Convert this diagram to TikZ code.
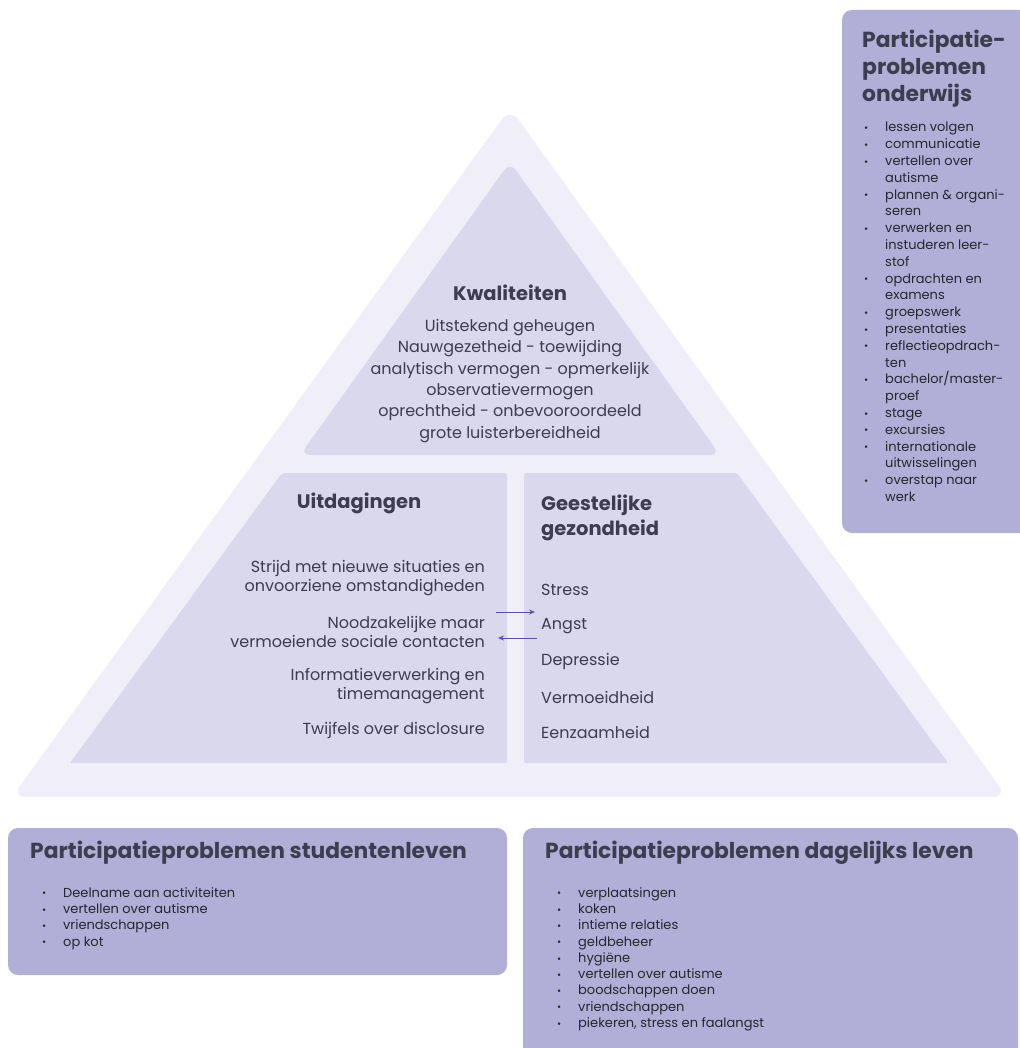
\documentclass[tikz,border=0pt]{standalone}
\usepackage{fontspec}
\setmainfont{Poppins}
\usetikzlibrary{arrows.meta}
\definecolor{outerc}{HTML}{F0EFF9}
\definecolor{innerc}{HTML}{DAD8EC}
\definecolor{boxc}{HTML}{B1AFD7}
\definecolor{txt}{HTML}{3D3D4F}
\definecolor{listc}{HTML}{26262F}
\definecolor{arrc}{HTML}{5A4FA0}
\newcommand\bul{\makebox[21pt][l]{\raisebox{0.3pt}{\fontsize{10}{10}\selectfont\textbullet}}}
\newcommand\cont{\hspace*{21pt}}
\begin{document}
\begin{tikzpicture}[x=1pt,y=-1pt,
  head/.style={font=\fontsize{19.5}{25}\selectfont\bfseries, text=txt, inner sep=0pt},
  body/.style={font=\fontsize{16}{21.3}\selectfont, text=txt, inner sep=0pt},
  bodyt/.style={font=\fontsize{16}{18.5}\selectfont, text=txt, inner sep=0pt},
  bigtitle/.style={font=\fontsize{21.8}{27}\selectfont\bfseries, text=txt, inner sep=0pt},
  listt/.style={font=\fontsize{13}{16.3}\selectfont, text=listc, inner sep=0pt, align=left},
  panel/.style={fill=boxc, rounded corners=10pt},
  arrowc/.style={draw=arrc, line width=1pt, -{Stealth[length=6pt,width=5pt]}}
]
\useasboundingbox (0,0) rectangle (1019,1048);
\fill[white] (0,0) rectangle (1019,1048);

% pyramid
\fill[outerc, rounded corners=14pt] (510,797) -- (1007,797) -- (510,108) -- (12,797) -- cycle;
\fill[innerc, rounded corners=10pt] (510,455) -- (720,455) -- (510,162) -- (300,455) -- cycle;
\fill[innerc, rounded corners=2pt] (282,473) -- (507,473) -- (507,763) -- (70,763) -- cycle;
\fill[innerc, rounded corners=2pt] (524,473) -- (737,473) -- (948,763) -- (524,763) -- cycle;

% Kwaliteiten
\node[head] (kwt) at (510,293) {Kwaliteiten};
\node[body, align=center] (kwb) at (510,381) {Uitstekend geheugen\\Nauwgezetheid - toewijding\\analytisch vermogen - opmerkelijk\\observatievermogen\\oprechtheid - onbevooroordeeld\\grote luisterbereidheid};

% Uitdagingen
\node[head] (uit) at (359,503) {Uitdagingen};
\node[bodyt, align=right, anchor=east] (u1) at (485,578) {Strijd met nieuwe situaties en\\onvoorziene omstandigheden};
\node[bodyt, align=right, anchor=east] (u2) at (485,632) {Noodzakelijke maar\\vermoeiende sociale contacten};
\node[bodyt, align=right, anchor=east] (u3) at (485,686) {Informatieverwerking en\\timemanagement};
\node[bodyt, align=right, anchor=east] (u4) at (485,730) {Twijfels over disclosure};

% Geestelijke gezondheid
\node[head, align=left, anchor=west] (gg) at (541,518) {Geestelijke\\gezondheid};
\node[bodyt, anchor=west] (g1) at (541,590) {Stress};
\node[bodyt, anchor=west] (g2) at (541,626) {Angst};
\node[bodyt, anchor=west] (g3) at (541,661) {Depressie};
\node[bodyt, anchor=west] (g4) at (541,697) {Vermoeidheid};
\node[bodyt, anchor=west] (g5) at (541,732) {Eenzaamheid};

% arrows
\coordinate (a1s) at (496,612);
\coordinate (a1e) at (535,612);
\coordinate (a2s) at (537,638);
\coordinate (a2e) at (498,638);
\draw[arrowc] (a1s) -- (a1e);
\draw[arrowc] (a2s) -- (a2e);

% Onderwijs panel
\fill[panel] (842,10) rectangle (1035,533);
\node[bigtitle, align=left, anchor=north west] (ond) at (862,30) {Participatie-\\problemen\\onderwijs};
\node[listt, font=\fontsize{13}{16.8}\selectfont, anchor=north west] (ondl) at (864,122) {\bul lessen volgen\\\bul communicatie\\\bul vertellen over\\\cont autisme\\\bul plannen \& organi-\\\cont seren\\\bul verwerken en\\\cont instuderen leer-\\\cont stof\\\bul opdrachten en\\\cont examens\\\bul groepswerk\\\bul presentaties\\\bul reflectieopdrach-\\\cont ten\\\bul bachelor/master-\\\cont proef\\\bul stage\\\bul excursies\\\bul internationale\\\cont uitwisselingen\\\bul overstap naar\\\cont werk};

% Studentenleven panel
\fill[panel] (8,828) rectangle (507,975);
\node[bigtitle, anchor=west] (stu) at (30,853) {Participatieproblemen studentenleven};
\node[listt, anchor=north west] (stul) at (42,887) {\bul Deelname aan activiteiten\\\bul vertellen over autisme\\\bul vriendschappen\\\bul op kot};

% Dagelijks leven panel
\fill[panel] (523,828) rectangle (1018,1070);
\node[bigtitle, anchor=west] (dag) at (545,853) {Participatieproblemen dagelijks leven};
\node[listt, anchor=north west] (dagl) at (557,887) {\bul verplaatsingen\\\bul koken\\\bul intieme relaties\\\bul geldbeheer\\\bul hygiëne\\\bul vertellen over autisme\\\bul boodschappen doen\\\bul vriendschappen\\\bul piekeren, stress en faalangst};
\end{tikzpicture}
\end{document}
